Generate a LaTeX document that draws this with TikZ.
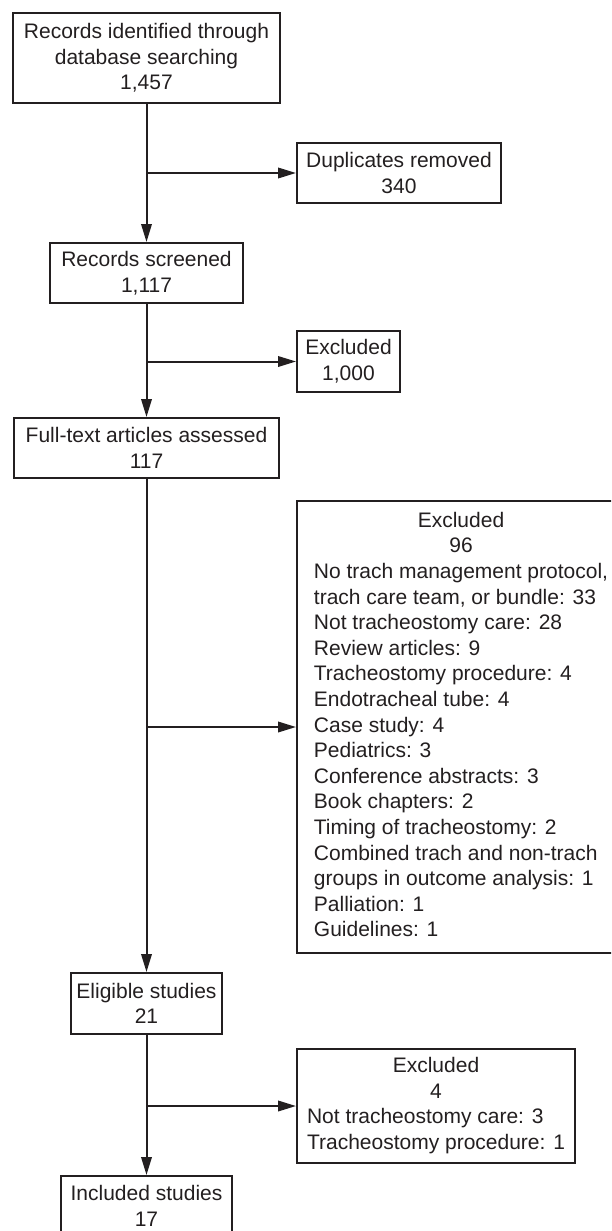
\documentclass[tikz,border=0pt]{standalone}
\usepackage{fontspec}
\setmainfont{Liberation Sans}
\usetikzlibrary{arrows.meta}
\definecolor{ink}{HTML}{231F20}
\newcommand{\ctrline}[1]{\multicolumn{1}{@{}c@{}}{#1}}
\begin{document}
\begin{tikzpicture}[x=1pt,y=-1pt,
  box/.style={draw=ink, line width=2pt, rectangle, inner sep=0pt, align=center,
    text=ink, font=\fontsize{21}{25.6}\selectfont},
  arr/.style={draw=ink, line width=2pt, -{Triangle[length=18pt,width=10.5pt]}}]
\useasboundingbox (0,0) rectangle (611,1231);
\clip (0,0) rectangle (611,1231);
\fill[white] (0,0) rectangle (611,1231);

\node[box, minimum width=267pt, minimum height=90pt] (A) at (146.5,58)
  {Records identified through\\database searching\\1,457};
\node[box, minimum width=204pt, minimum height=60pt] (B) at (399,173)
  {Duplicates removed\\340};
\node[box, minimum width=193pt, minimum height=60pt] (C) at (146.5,273)
  {Records screened\\1,117};
\node[box, minimum width=103pt, minimum height=61pt] (D) at (348.5,361.5)
  {Excluded\\1,000};
\node[box, minimum width=265pt, minimum height=60pt] (E) at (146.5,448)
  {Full-text articles assessed\\117};
\node[box, minimum width=328pt, minimum height=452pt] (F) at (461,727)
  {\begin{tabular}{@{}l@{}}
   \ctrline{Excluded}\\
   \ctrline{96}\\
   No trach management protocol,\\
   trach care team, or bundle: 33\\
   Not tracheostomy care: 28\\
   Review articles: 9\\
   Tracheostomy procedure: 4\\
   Endotracheal tube: 4\\
   Case study: 4\\
   Pediatrics: 3\\
   Conference abstracts: 3\\
   Book chapters: 2\\
   Timing of tracheostomy: 2\\
   Combined trach and non-trach\\
   groups in outcome analysis: 1\\
   Palliation: 1\\
   Guidelines: 1
   \end{tabular}};
\node[box, minimum width=151pt, minimum height=61pt] (G) at (146.5,1003.5)
  {Eligible studies\\21};
\node[box, minimum width=278pt, minimum height=114pt] (H) at (436,1106)
  {\begin{tabular}{@{}l@{}}
   \ctrline{Excluded}\\
   \ctrline{4}\\
   Not tracheostomy care: 3\\
   Tracheostomy procedure: 1
   \end{tabular}};
\node[box, minimum width=171pt, minimum height=60pt] (I) at (146.5,1206)
  {Included studies\\17};

\draw[arr] (A.south) -- (C.north);
\draw[arr] (A.south |- B.west) -- (B.west);
\draw[arr] (C.south) -- (E.north);
\draw[arr] (C.south |- D.west) -- (D.west);
\draw[arr] (E.south) -- (G.north);
\draw[arr] (E.south |- F.west) -- (F.west);
\draw[arr] (G.south) -- (I.north);
\draw[arr] (G.south |- H.west) -- (H.west);
\end{tikzpicture}
\end{document}
